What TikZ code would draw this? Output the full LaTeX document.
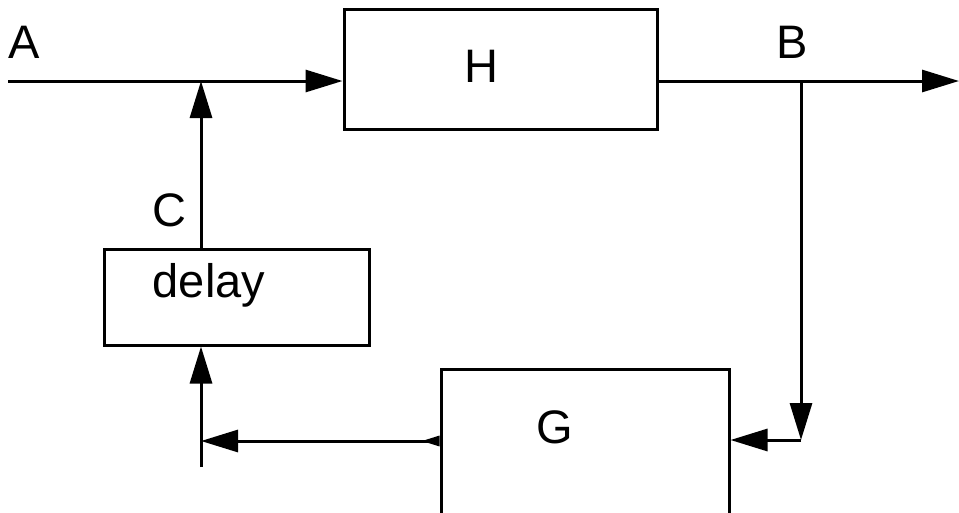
\documentclass[tikz,border=0pt]{standalone}
\usepackage{fontspec}
\setmainfont{Liberation Sans}
\usetikzlibrary{arrows.meta}
\begin{document}
\begin{tikzpicture}[x=1pt,y=-1pt,line width=3pt,
  box/.style={draw,line width=3pt,inner sep=0,minimum width=#1},
  lbl/.style={anchor=base,inner sep=0,font=\fontsize{47}{50}\selectfont},
  big/.style={-{Triangle[length=37pt,width=22pt]}},
  small/.style={{Triangle[reversed,length=18pt,width=10pt]}-{Triangle[length=37pt,width=22pt]}}]
\useasboundingbox (0,0) rectangle (959,512);
\clip (0,0) rectangle (959,512);
% boxes
\node[box=313pt,minimum height=120pt] (H) at (500.5,69) {};
\node[box=265pt,minimum height=96pt] (D) at (236.5,297) {};
\node[box=288pt,minimum height=160pt] (G) at (585,449) {};
% labels
\node[lbl] (lA) at (24,58) {A};
\node[lbl] (lB) at (792.5,58) {B};
\node[lbl] (lH) at (481.5,82) {H};
\node[lbl] (lC) at (169,226) {C};
\node[lbl] (lD) at (209,297) {delay};
\node[lbl] (lG) at (555,443) {G};
% coordinates
\coordinate (a0) at (8,81);
\coordinate (b1) at (959,81);
\coordinate (br) at (801,81);
\coordinate (bc) at (801,440);
\coordinate (jA) at (201,81);
\coordinate (gl) at (201,441);
\coordinate (gb) at (201,467);
% connectors
\draw[big] (a0) -- (a0 -| H.west);
\draw[big] (b1 -| H.east) -- (b1);
\draw[big] (br) -- (bc);
\draw[big] (bc) -- (bc -| G.east);
\draw[big] (D.north -| jA) -- (jA);
\draw[big] (gb) -- (gb |- D.south);
\draw[small] (gl -| G.west) -- (gl);
\end{tikzpicture}
\end{document}
